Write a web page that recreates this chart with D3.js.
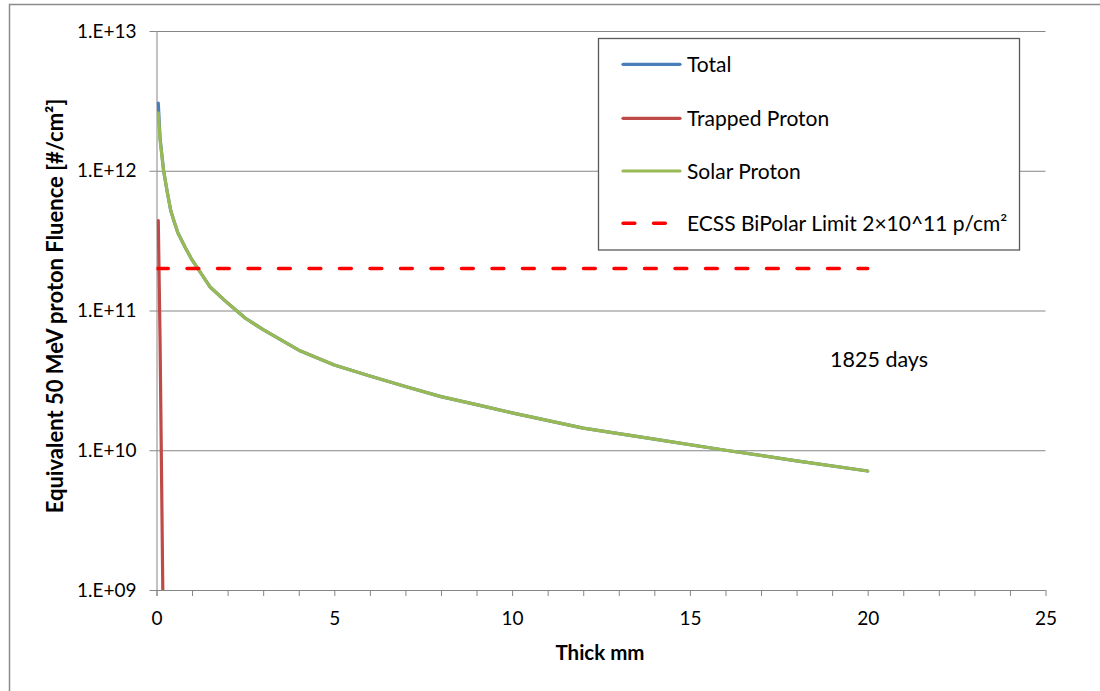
<!DOCTYPE html>
<html>
<head>
<meta charset="utf-8">
<script src="https://cdn.jsdelivr.net/npm/d3@7"></script>
<style>
  body { margin: 0; background: #fff; }
  svg { display: block; font-family: Lato, "Open Sans", sans-serif; }
  .grid line { stroke: #868686; stroke-width: 1; }
  .grid .domain { display: none; }
  .axis path, .axis line { stroke: #868686; stroke-width: 1; }
  .axis text { fill: #000; font-size: 19px; font-family: Lato, sans-serif; }
</style>
</head>
<body>
<div id="chart"></div>
<script>
// data
var thick = [0.05, 0.1, 0.2, 0.3, 0.4, 0.5, 0.6, 0.8, 1, 1.5, 2, 2.5, 3, 4, 5, 6, 7, 8, 9, 10, 12, 14, 16, 18, 20];
var solar = [2.6e12, 1.66e12, 1.0e12, 7.1e11, 5.2e11, 4.3e11, 3.6e11, 2.85e11, 2.3e11, 1.48e11, 1.13e11, 8.8e10, 7.3e10,
             5.2e10, 4.07e10, 3.4e10, 2.86e10, 2.42e10, 2.12e10, 1.85e10, 1.44e10, 1.2e10, 1.0e10, 8.4e9, 7.1e9];
var total = [3.05e12, 1.72e12, 1.0e12, 7.1e11, 5.2e11, 4.3e11, 3.6e11, 2.85e11, 2.3e11, 1.48e11, 1.13e11, 8.8e10, 7.3e10,
             5.2e10, 4.07e10, 3.4e10, 2.86e10, 2.42e10, 2.12e10, 1.85e10, 1.44e10, 1.2e10, 1.0e10, 8.4e9, 7.1e9];
var trappedThick = [0.05, 0.1, 0.2];
var trapped = [4.4e11, 6.2e10, 3.0e8];
var limitThick = [0, 20];
var limitValue = 2e11;

var seriesNames = ["Total", "Trapped Proton", "Solar Proton", "ECSS BiPolar Limit 2×10^11 p/cm²"];
var seriesColors = ["#4A7EBB", "#BE4B48", "#98B954", "#FF0000"];

var yTicks = [1e9, 1e10, 1e11, 1e12, 1e13];
var yTickLabels = ["1.E+09", "1.E+10", "1.E+11", "1.E+12", "1.E+13"];
var xMinorTicks = d3.range(0, 26, 1);
var xTicks = [0, 5, 10, 15, 20, 25];

var W = 1100, H = 691;
var margin = {top: 31, right: 54.5, bottom: 101, left: 156.5},
    width = W - margin.left - margin.right,
    height = H - margin.top - margin.bottom;

var svg = d3.select("#chart").append("svg")
    .attr("width", W)
    .attr("height", H);

// outer chart frame
svg.append("rect")
    .attr("x", 9.5).attr("y", 4.5)
    .attr("width", 1200).attr("height", 800)
    .attr("fill", "none")
    .attr("stroke", "#8c8c8c")
    .attr("stroke-width", 1.5);

var g = svg.append("g")
    .attr("transform", "translate(" + margin.left + "," + margin.top + ")");

var x = d3.scaleLinear().domain([0, 25]).range([0, width]);
var y = d3.scaleLog().domain([1e9, 1e13]).range([height, 0]);

// horizontal gridlines
g.append("g")
    .attr("class", "grid")
    .call(d3.axisLeft(y).tickValues(yTicks).tickSize(-width).tickFormat(""));

// y axis
var yAx = g.append("g")
    .attr("class", "axis")
    .call(d3.axisLeft(y).tickValues(yTicks).tickSize(7).tickPadding(13)
      .tickFormat(function(d, i) { return yTickLabels[i]; }));
yAx.select(".domain").attr("d", "M0.5," + (height + 6) + "V0");

// x axis minor ticks
var xAxMinor = g.append("g")
    .attr("class", "axis")
    .attr("transform", "translate(0," + height + ")")
    .call(d3.axisBottom(x).tickValues(xMinorTicks).tickSize(6).tickFormat(""));
xAxMinor.select(".domain").attr("d", "M0," + 0.5 + "H" + width);

// x axis labels
var xAx = g.append("g")
    .attr("class", "axis")
    .attr("transform", "translate(0," + height + ")")
    .call(d3.axisBottom(x).tickValues(xTicks).tickSize(0));
xAx.select(".domain").remove();
xAx.selectAll("text").attr("y", 35).attr("dy", null);

// clip series to plot area
g.append("clipPath").attr("id", "plotclip")
  .append("rect").attr("x", 0).attr("y", 0).attr("width", width).attr("height", height);

var line = d3.line()
    .x(function(d) { return x(d[0]); })
    .y(function(d) { return y(d[1]); });

var plot = g.append("g").attr("clip-path", "url(#plotclip)");

function drawSeries(xs, vs, color) {
  plot.append("path")
    .datum(xs.map(function(t, i) { return [t, vs[i]]; }))
    .attr("fill", "none")
    .attr("stroke", color)
    .attr("stroke-width", 3.2)
    .attr("stroke-linejoin", "round")
    .attr("stroke-linecap", "round")
    .attr("d", line);
}

drawSeries(thick, total, seriesColors[0]);
drawSeries(trappedThick, trapped, seriesColors[1]);
drawSeries(thick, solar, seriesColors[2]);

// limit line
plot.append("path")
    .datum(limitThick.map(function(t) { return [t, limitValue]; }))
    .attr("fill", "none")
    .attr("stroke", seriesColors[3])
    .attr("stroke-width", 3.5)
    .attr("stroke-linecap", "round")
    .attr("stroke-dasharray", "11.8,18.7")
    .attr("d", line);

// axis titles
svg.append("text")
    .attr("x", 600).attr("y", 660)
    .attr("text-anchor", "middle")
    .style("font-weight", "bold").style("font-size", "20.5px")
    .text("Thick mm");

svg.append("text")
    .attr("transform", "translate(63,306) rotate(-90)")
    .attr("text-anchor", "middle")
    .style("font-weight", "bold").style("font-size", "22px")
    .text("Equivalent 50 MeV proton Fluence [#/cm²]");

// annotation
svg.append("text")
    .attr("x", 830).attr("y", 367)
    .style("font-size", "21.5px")
    .text("1825 days");

// legend
var legend = svg.append("g");
legend.append("rect")
    .attr("x", 598.5).attr("y", 38.5)
    .attr("width", 421).attr("height", 211.5)
    .attr("fill", "#fff")
    .attr("stroke", "#595959")
    .attr("stroke-width", 1.3);

var rowY = [64.3, 118.3, 171, 223.3];
seriesNames.forEach(function(name, i) {
  var ln = legend.append("line")
    .attr("x1", 623).attr("x2", i == 3 ? 668 : 680)
    .attr("y1", rowY[i]).attr("y2", rowY[i])
    .attr("stroke", seriesColors[i])
    .attr("stroke-width", i == 3 ? 3.5 : 3.2)
    .attr("stroke-linecap", "round");
  if (i == 3) ln.attr("stroke-dasharray", "11.8,18.7");
  legend.append("text")
    .attr("x", 687).attr("y", rowY[i] + 7.5)
    .style("font-size", "21px")
    .text(name);
});
</script>
</body>
</html>
